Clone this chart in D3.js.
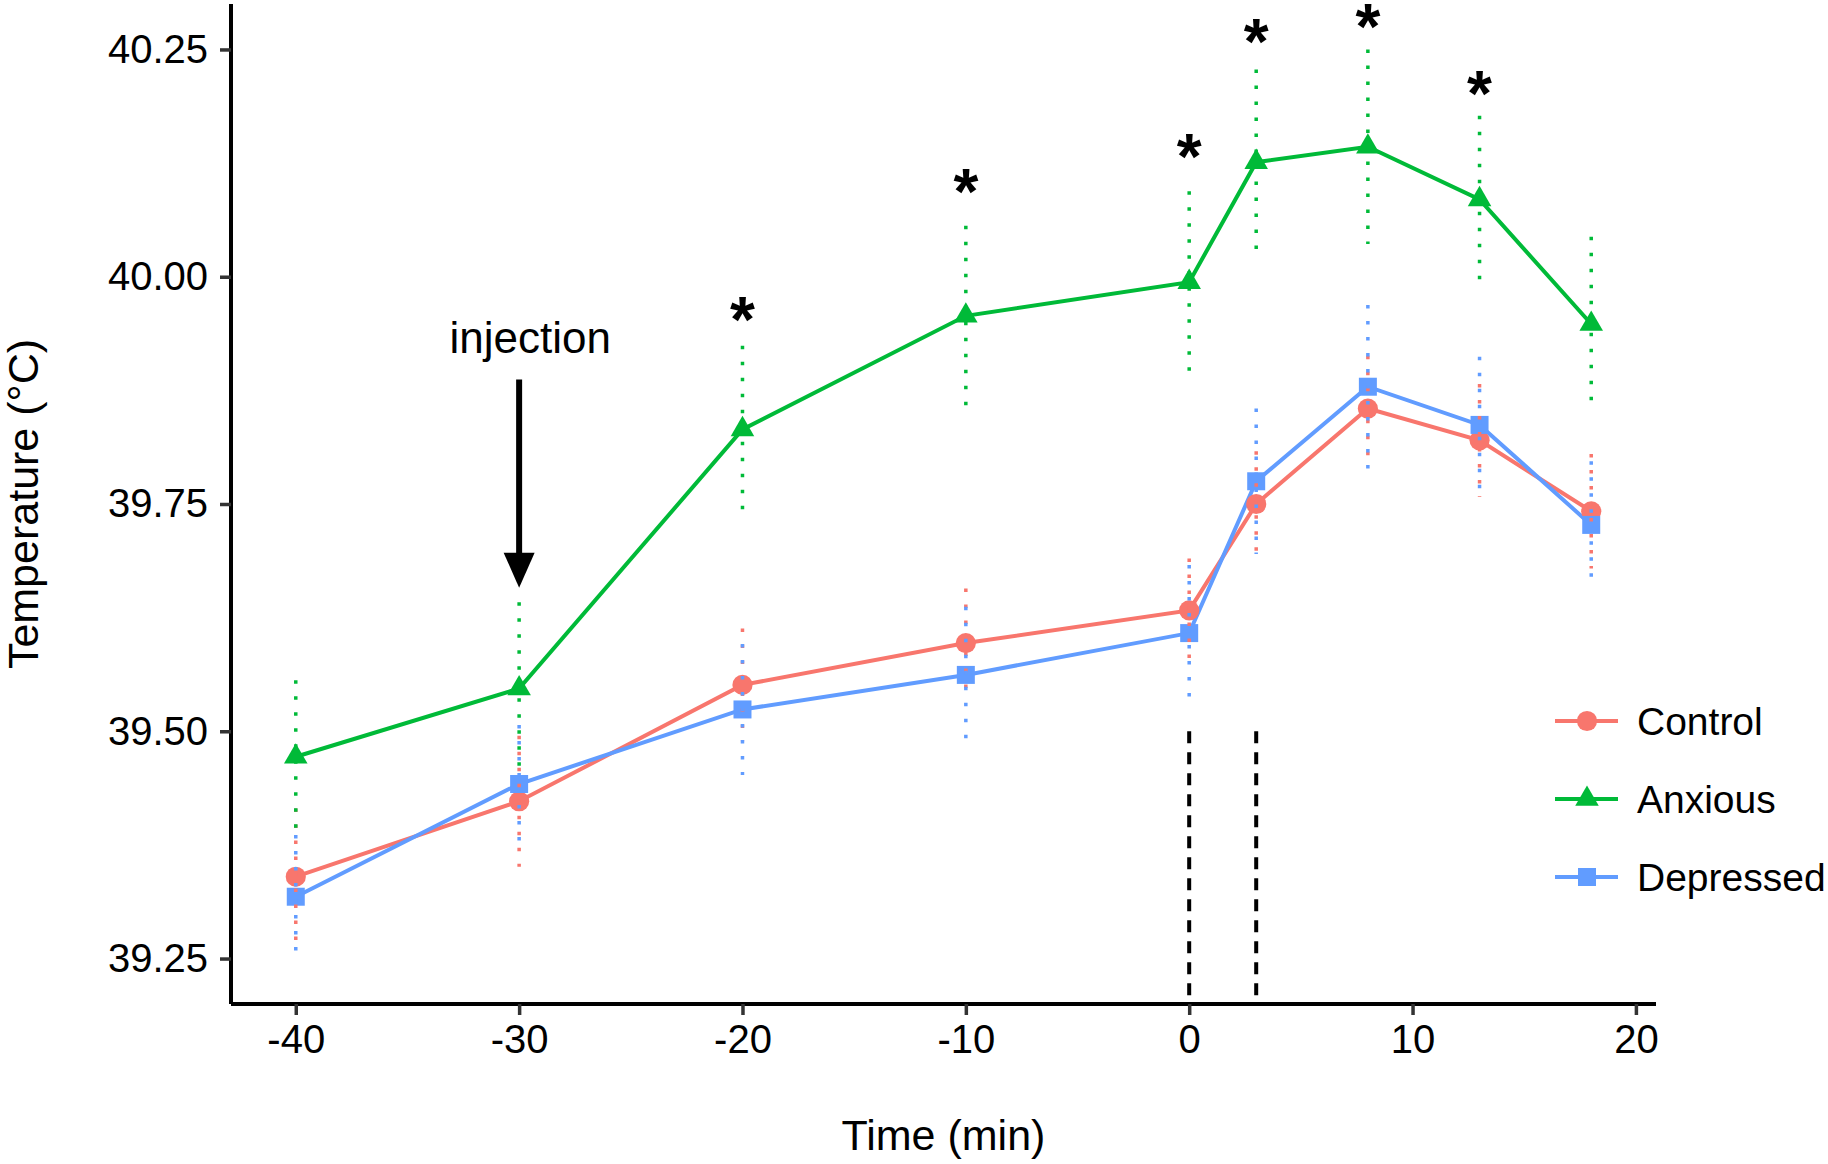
<!DOCTYPE html>
<html>
<head>
<meta charset="utf-8">
<script src="https://cdnjs.cloudflare.com/ajax/libs/d3/7.8.5/d3.min.js"></script>
<style>
  body { margin: 0; background: #fff; }
  text { font-family: "Liberation Sans", Arial, sans-serif; fill: #000; }
</style>
</head>
<body>
<div id="chart"></div>
<script>
// Time points (min)
const times = [-40, -30, -20, -10, 0, 3, 8, 13, 18];

// Mean temperature (°C) and SE for each group
const controlMean = [39.340, 39.423, 39.551, 39.597, 39.633, 39.750, 39.855, 39.820, 39.742];
const controlSe = [0.075, 0.072, 0.062, 0.060, 0.057, 0.058, 0.058, 0.062, 0.063];
const anxiousMean = [39.472, 39.547, 39.832, 39.957, 39.994, 40.126, 40.143, 40.085, 39.948];
const anxiousSe = [0.084, 0.095, 0.092, 0.099, 0.100, 0.102, 0.107, 0.092, 0.096];
const depressedMean = [39.318, 39.442, 39.524, 39.562, 39.608, 39.775, 39.879, 39.837, 39.727];
const depressedSe = [0.068, 0.065, 0.072, 0.075, 0.075, 0.080, 0.090, 0.075, 0.070];

const groupNames = ["Control", "Anxious", "Depressed"];
const groupColors = ["#F8766D", "#00BA38", "#619CFF"];

// significance marks (time, y of the star)
const sigTimes = [-20, -10, 0, 3, 8, 13];
const sigY = [39.963, 40.104, 40.143, 40.269, 40.286, 40.212];

// injection arrow and stimulus window
const injectionTime = -30;
const injectionArrow = [39.887, 39.658];
const injectionLabel = { t: -29.5, y: 39.916, text: "injection" };
const windowTimes = [0, 3];
const windowRange = [39.5, 39.2];

const xTicks = [-40, -30, -20, -10, 0, 10, 20];
const yTicks = [39.25, 39.50, 39.75, 40.00, 40.25];

const groups = [
  { name: groupNames[0], color: groupColors[0], shape: d3.symbolCircle, size: 320, mean: controlMean, se: controlSe },
  { name: groupNames[1], color: groupColors[1], shape: d3.symbolTriangle, size: 240, mean: anxiousMean, se: anxiousSe },
  { name: groupNames[2], color: groupColors[2], shape: d3.symbolSquare, size: 324, mean: depressedMean, se: depressedSe }
];

const width = 1828, height = 1164;
const panel = { left: 231, right: 1656, top: 4, bottom: 1004 };

const svg = d3.select("#chart").append("svg")
  .attr("width", width)
  .attr("height", height);

const x = d3.scaleLinear().domain([-42.9, 20.9]).range([panel.left, panel.right]);
const y = d3.scaleLinear().domain([39.2, 40.3]).range([panel.bottom, panel.top]);

// stimulus window lines
svg.append("g")
  .selectAll("line")
  .data(windowTimes)
  .join("line")
  .attr("x1", d => x(d)).attr("x2", d => x(d))
  .attr("y1", y(windowRange[0])).attr("y2", y(windowRange[1]))
  .attr("stroke", "#000")
  .attr("stroke-width", 4)
  .attr("stroke-dasharray", "12 9");

// lines
const line = d3.line().x((d, i) => x(times[i])).y(d => y(d));
svg.append("g")
  .selectAll("path")
  .data(groups)
  .join("path")
  .attr("d", g => line(g.mean))
  .attr("fill", "none")
  .attr("stroke", g => g.color)
  .attr("stroke-width", 4);

// points
groups.forEach(g => {
  svg.append("g")
    .selectAll("path")
    .data(g.mean)
    .join("path")
    .attr("transform", (d, i) => `translate(${x(times[i])},${y(d)})`)
    .attr("d", d3.symbol().type(g.shape).size(g.size))
    .attr("fill", g.color);
});

// error bars (dotted)
groups.forEach(g => {
  svg.append("g")
    .selectAll("line")
    .data(g.mean)
    .join("line")
    .attr("x1", (d, i) => x(times[i])).attr("x2", (d, i) => x(times[i]))
    .attr("y1", (d, i) => y(d + g.se[i]))
    .attr("y2", (d, i) => y(d - g.se[i]))
    .attr("stroke", g.color)
    .attr("stroke-width", 3.5)
    .attr("stroke-dasharray", "3.5 12.5");
});

// significance stars
svg.append("g")
  .selectAll("text")
  .data(sigTimes)
  .join("text")
  .attr("x", d => x(d))
  .attr("y", (d, i) => y(sigY[i]))
  .attr("dy", 32)
  .attr("text-anchor", "middle")
  .attr("font-weight", "bold")
  .attr("font-size", 64)
  .text("*");

// injection arrow
const ax = x(injectionTime);
const tipY = y(injectionArrow[1]);
const headLen = 35, headW = 31;
svg.append("line")
  .attr("x1", ax).attr("x2", ax)
  .attr("y1", y(injectionArrow[0])).attr("y2", tipY - headLen + 2)
  .attr("stroke", "#000")
  .attr("stroke-width", 6);
svg.append("path")
  .attr("d", `M${ax - headW / 2},${tipY - headLen}L${ax + headW / 2},${tipY - headLen}L${ax},${tipY}Z`)
  .attr("fill", "#000");
svg.append("text")
  .attr("x", x(injectionLabel.t))
  .attr("y", y(injectionLabel.y))
  .attr("text-anchor", "middle")
  .attr("font-size", 44)
  .text(injectionLabel.text);

// axes
const xAxis = svg.append("g")
  .attr("transform", `translate(0,${panel.bottom})`)
  .call(d3.axisBottom(x).tickValues(xTicks).tickSize(11).tickSizeOuter(0).tickPadding(10).tickFormat(d => String(d)));
const yAxis = svg.append("g")
  .attr("transform", `translate(${panel.left},0)`)
  .call(d3.axisLeft(y).tickValues(yTicks).tickSize(11).tickSizeOuter(0).tickPadding(12).tickFormat(d3.format(".2f")));

[xAxis, yAxis].forEach(a => {
  a.select(".domain").attr("stroke", "#000").attr("stroke-width", 4);
  a.selectAll(".tick line").attr("stroke", "#333").attr("stroke-width", 3.5);
  a.selectAll(".tick text")
    .attr("font-family", "'Liberation Sans', Arial, sans-serif")
    .attr("font-size", 40)
    .attr("fill", "#000");
});
xAxis.select(".domain").attr("d", `M${panel.left},0H${panel.right}`);
yAxis.select(".domain").attr("d", `M0,${panel.bottom}V${panel.top}`);

// axis titles
svg.append("text")
  .attr("x", (panel.left + panel.right) / 2)
  .attr("y", 1150)
  .attr("text-anchor", "middle")
  .attr("font-size", 43)
  .text("Time (min)");
svg.append("text")
  .attr("transform", `translate(38,${(panel.top + panel.bottom) / 2}) rotate(-90)`)
  .attr("text-anchor", "middle")
  .attr("font-size", 43)
  .text("Temperature (°C)");

// legend
const legend = svg.append("g")
  .selectAll("g")
  .data(groups)
  .join("g")
  .attr("transform", (d, i) => `translate(1555,${721 + i * 78})`);
legend.append("line")
  .attr("x1", 0).attr("x2", 63)
  .attr("stroke", d => d.color)
  .attr("stroke-width", 4);
legend.append("path")
  .attr("transform", "translate(32,0)")
  .attr("d", d => d3.symbol().type(d.shape).size(d.size)())
  .attr("fill", d => d.color);
legend.append("text")
  .attr("x", 82)
  .attr("y", 14)
  .attr("font-size", 39)
  .text(d => d.name);
</script>
</body>
</html>
